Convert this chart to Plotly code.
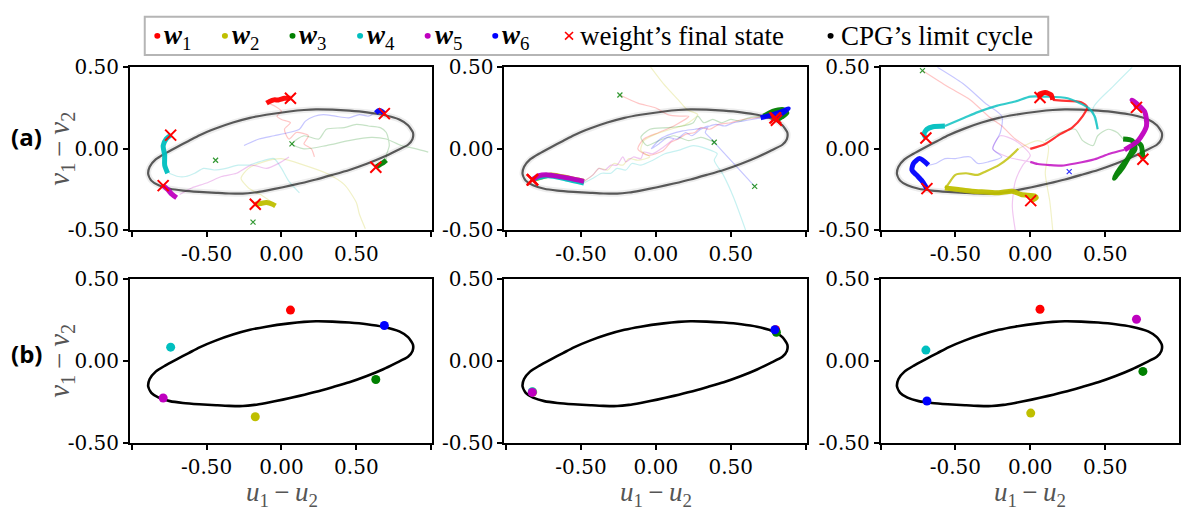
import plotly.graph_objects as go

W, H = 1181, 515
SERIF = "Liberation Serif"
TICK_SERIF = "DejaVu Serif"

WEIGHTS = ["w1", "w2", "w3", "w4", "w5", "w6"]
COLORS = ["#ff0000", "#bfbf00", "#008000", "#00bfbf", "#bf00bf", "#0000ff"]

# CPG limit cycle in the (u1-u2, v1-v2) plane
CYCLE_X = [0.053, 0.15, 0.231, 0.34, 0.453, 0.57, 0.676, 0.787, 0.845, 0.878, 0.875, 0.845,
           0.764, 0.676, 0.57, 0.453, 0.34, 0.231, 0.12, 0.009, -0.102, -0.18, -0.258, -0.35,
           -0.436, -0.55, -0.658, -0.745, -0.82, -0.869, -0.89, -0.88, -0.84, -0.78, -0.70,
           -0.62, -0.547, -0.44, -0.324, -0.21, -0.102, 0.053]
CYCLE_Y = [0.229, 0.238, 0.242, 0.240, 0.234, 0.224, 0.209, 0.18, 0.145, 0.10, 0.06, 0.025,
           -0.013, -0.052, -0.092, -0.13, -0.16, -0.188, -0.213, -0.236, -0.256, -0.268, -0.275,
           -0.274, -0.27, -0.264, -0.256, -0.245, -0.224, -0.195, -0.155, -0.11, -0.065, -0.03,
           0.01, 0.048, 0.083, 0.124, 0.161, 0.19, 0.209, 0.229]

# ---- run 1 ----
FINAL_1_X = [0.06, -0.175, 0.63, -0.74, -0.79, 0.687]
FINAL_1_Y = [0.31, -0.34, -0.113, 0.084, -0.226, 0.216]
START_1_X = [0.07, -0.44, -0.19]
START_1_Y = [0.03, -0.07, -0.45]
FAINT_1 = {
    "w1": [(0.22, -0.05), (0.2, 0.0), (0.15, 0.03), (0.18, 0.08), (0.1, 0.1), (0.05, 0.06),
           (0.02, 0.12), (0.06, 0.16), (0.0, 0.18), (-0.03, 0.2), (0.0, 0.23), (-0.04, 0.26),
           (-0.09, 0.28)],
    "w2": [(0.56, -0.49), (0.52, -0.4), (0.5, -0.33), (0.42, -0.22), (0.3, -0.15), (0.15, -0.1),
           (0.0, -0.06), (-0.12, -0.08), (-0.22, -0.12), (-0.27, -0.18), (-0.22, -0.24),
           (-0.14, -0.28), (-0.06, -0.33)],
    "w3": [(0.98, -0.02), (0.9, 0.0), (0.8, 0.02), (0.7, 0.06), (0.6, 0.07), (0.45, 0.05),
           (0.3, 0.02), (0.15, 0.0), (0.07, 0.03), (0.15, 0.08), (0.25, 0.06), (0.3, 0.12),
           (0.42, 0.13), (0.5, 0.15), (0.58, 0.14), (0.66, 0.13), (0.70, 0.1), (0.72, 0.02),
           (0.70, -0.04), (0.70, -0.07)],
    "w4": [(0.12, -0.27), (0.05, -0.2), (0.0, -0.12), (-0.05, -0.06), (-0.15, -0.08),
           (-0.22, -0.1), (-0.29, -0.10), (-0.37, -0.12), (-0.45, -0.13), (-0.52, -0.12),
           (-0.58, -0.15), (-0.64, -0.17), (-0.69, -0.17), (-0.75, -0.15)],
    "w5": [(0.05, -0.05), (-0.02, -0.09), (-0.1, -0.12), (-0.2, -0.1), (-0.3, -0.15),
           (-0.4, -0.17), (-0.5, -0.21), (-0.6, -0.24), (-0.68, -0.28)],
    "w6": [(-0.25, 0.02), (-0.15, 0.06), (-0.05, 0.08), (0.05, 0.1), (0.12, 0.12), (0.16, 0.17),
           (0.22, 0.2), (0.28, 0.21), (0.36, 0.2), (0.45, 0.19), (0.52, 0.21), (0.58, 0.2),
           (0.62, 0.22)],
}
MID_1 = {}
TAIL_1 = {
    "w1": [(-0.10, 0.28), (-0.08, 0.29), (-0.05, 0.30), (-0.02, 0.30), (0.02, 0.31)],
    "w2": [(-0.04, -0.35), (-0.06, -0.34), (-0.10, -0.33), (-0.14, -0.335)],
    "w3": [(0.70, -0.07), (0.68, -0.085), (0.66, -0.095)],
    "w4": [(-0.76, -0.15), (-0.78, -0.1), (-0.78, -0.04), (-0.79, 0.02), (-0.77, 0.06)],
    "w5": [(-0.70, -0.30), (-0.73, -0.28), (-0.76, -0.25)],
    "w6": [(0.63, 0.22), (0.65, 0.235), (0.67, 0.23)],
}

# ---- run 2 ----
FINAL_2_X = [0.80, -0.822, 0.805, -0.825, -0.825, 0.795]
FINAL_2_Y = [0.19, -0.19, 0.175, -0.188, -0.192, 0.19]
START_2_X = [-0.24, 0.39, 0.66]
START_2_Y = [0.33, 0.04, -0.23]
FAINT_2 = {
    "w1": [(-0.24, 0.33), (-0.12, 0.28), (0.0, 0.25), (0.08, 0.21), (0.16, 0.2), (0.22, 0.2),
           (0.12, 0.14), (0.02, 0.1), (-0.08, 0.06), (-0.12, 0.0), (-0.05, -0.04), (0.05, -0.01),
           (0.1, 0.04), (0.15, 0.06), (0.2, 0.09), (0.26, 0.1), (0.3, 0.13), (0.36, 0.12),
           (0.42, 0.15), (0.5, 0.16), (0.58, 0.18), (0.66, 0.19), (0.74, 0.2)],
    "w2": [(-0.05, 0.52), (0.05, 0.4), (0.15, 0.3), (0.21, 0.24), (0.28, 0.21), (0.2, 0.15),
           (0.1, 0.12), (0.0, 0.09), (-0.08, 0.05), (-0.1, -0.01), (-0.04, -0.05), (-0.12, -0.07),
           (-0.18, -0.06), (-0.22, -0.1), (-0.28, -0.09), (-0.32, -0.13), (-0.38, -0.12),
           (-0.42, -0.16), (-0.48, -0.2)],
    "w3": [(0.39, 0.04), (0.3, 0.07), (0.22, 0.05), (0.12, 0.08), (0.02, 0.05), (-0.06, 0.02),
           (-0.1, 0.07), (-0.04, 0.12), (0.08, 0.13), (0.18, 0.14), (0.25, 0.16), (0.28, 0.2),
           (0.32, 0.16), (0.38, 0.18), (0.44, 0.16), (0.5, 0.18), (0.56, 0.17), (0.62, 0.19),
           (0.72, 0.2)],
    "w4": [(0.6, -0.5), (0.52, -0.3), (0.45, -0.16), (0.39, -0.07), (0.41, -0.03), (0.34, 0.0),
           (0.25, 0.02), (0.15, -0.01), (0.06, -0.03), (-0.02, -0.07), (-0.1, -0.1),
           (-0.16, -0.09), (-0.2, -0.13), (-0.26, -0.12), (-0.3, -0.15), (-0.36, -0.15),
           (-0.42, -0.18), (-0.48, -0.21)],
    "w5": [(0.12, 0.06), (0.05, 0.01), (-0.02, -0.03), (-0.08, -0.02), (-0.1, -0.06),
           (-0.15, -0.05), (-0.2, -0.08), (-0.22, -0.05), (-0.26, -0.1), (-0.3, -0.1),
           (-0.34, -0.13), (-0.38, -0.12), (-0.42, -0.16), (-0.48, -0.2)],
    "w6": [(0.66, -0.23), (0.55, -0.12), (0.45, -0.02), (0.36, 0.07), (0.33, 0.1), (0.35, 0.14),
           (0.3, 0.12), (0.24, 0.08), (0.2, 0.1), (0.14, 0.06), (0.08, 0.07), (0.02, 0.03),
           (-0.03, 0.0), (0.03, 0.06), (0.1, 0.09), (0.18, 0.11), (0.26, 0.12), (0.33, 0.13),
           (0.4, 0.15), (0.46, 0.14), (0.52, 0.16), (0.58, 0.17), (0.64, 0.18), (0.70, 0.19)],
}
MID_2 = {}
TAIL_2 = {
    "w1": [(0.74, 0.2), (0.77, 0.205)],
    "w2": [(-0.48, -0.2), (-0.58, -0.18), (-0.7, -0.16)],
    "w3": [(0.72, 0.2), (0.78, 0.23), (0.85, 0.24), (0.875, 0.22), (0.84, 0.195)],
    "w4": [(-0.48, -0.21), (-0.6, -0.185), (-0.72, -0.165)],
    "w5": [(-0.48, -0.2), (-0.58, -0.18), (-0.72, -0.16), (-0.78, -0.165)],
    "w6": [(0.70, 0.19), (0.78, 0.21), (0.86, 0.235), (0.885, 0.245), (0.84, 0.215)],
}

# ---- run 3 ----
FINAL_3_X = [0.065, 0.003, 0.752, -0.697, 0.709, -0.69]
FINAL_3_Y = [0.315, -0.318, -0.064, 0.066, 0.254, -0.244]
START_3_X = [-0.72]
START_3_Y = [0.48]
START_3B_X = [0.26]
START_3B_Y = [-0.14]
FAINT_3 = {
    "w1": [(-0.72, 0.48), (-0.55, 0.38), (-0.4, 0.3), (-0.28, 0.2), (-0.19, 0.14), (-0.1, 0.06),
           (0.0, 0.0)],
    "w2": [(0.15, -0.5), (0.13, -0.32), (0.1, -0.15), (0.12, 0.02), (0.05, 0.05), (-0.08, 0.0)],
    "w3": [(0.1, 0.05), (0.2, 0.1), (0.3, 0.12), (0.35, 0.05), (0.42, 0.02), (0.45, 0.08),
           (0.52, 0.12), (0.58, 0.1), (0.62, 0.06)],
    "w4": [(0.68, 0.5), (0.55, 0.38), (0.42, 0.25), (0.45, 0.12)],
    "w5": [(-0.1, -0.5), (-0.12, -0.35), (-0.1, -0.2), (-0.05, -0.1), (0.0, -0.04), (-0.1, 0.05),
           (-0.2, 0.08), (-0.25, 0.0), (-0.15, -0.05), (0.0, -0.08)],
    "w6": [(-0.62, 0.5), (-0.45, 0.4), (-0.3, 0.28), (-0.19, 0.2), (-0.2, 0.1), (-0.25, 0.0),
           (-0.19, -0.05), (-0.28, -0.08), (-0.35, -0.09), (-0.40, -0.05), (-0.44, -0.05),
           (-0.5, -0.06), (-0.57, -0.06), (-0.63, -0.09), (-0.68, -0.1)],
}
MID_3 = {
    "w1": [(0.0, 0.0), (0.1, 0.03), (0.2, 0.09), (0.28, 0.13), (0.35, 0.2), (0.38, 0.256),
           (0.34, 0.285), (0.21, 0.295), (0.15, 0.3)],
    "w2": [(-0.08, 0.0), (-0.15, -0.06), (-0.21, -0.1), (-0.3, -0.14), (-0.35, -0.16),
           (-0.43, -0.15), (-0.5, -0.16), (-0.55, -0.22), (-0.57, -0.24)],
    "w4": [(0.45, 0.12), (0.43, 0.2), (0.39, 0.25), (0.25, 0.31), (0.1, 0.32), (0.0, 0.32),
           (-0.1, 0.29), (-0.22, 0.265), (-0.35, 0.225), (-0.44, 0.19), (-0.57, 0.14)],
    "w5": [(0.0, -0.08), (0.05, -0.093), (0.13, -0.1), (0.21, -0.103), (0.3, -0.09),
           (0.43, -0.064), (0.53, -0.03), (0.63, -0.006)],
}
TAIL_3 = {
    "w1": [(0.15, 0.3), (0.14, 0.33), (0.1, 0.345), (0.06, 0.335)],
    "w2": [(-0.57, -0.24), (-0.48, -0.25), (-0.39, -0.26), (-0.3, -0.265), (-0.21, -0.27),
           (-0.12, -0.26), (-0.06, -0.28), (0.03, -0.29), (0.04, -0.30)],
    "w3": [(0.62, 0.06), (0.68, 0.05), (0.70, 0.0), (0.66, -0.05), (0.6, -0.12), (0.56, -0.18),
           (0.62, -0.11), (0.67, -0.03), (0.71, 0.04), (0.74, 0.02)],
    "w4": [(-0.57, 0.14), (-0.65, 0.135), (-0.69, 0.12), (-0.71, 0.09)],
    "w5": [(0.63, -0.006), (0.72, 0.05), (0.776, 0.14), (0.764, 0.227), (0.72, 0.27),
           (0.68, 0.3), (0.70, 0.28)],
    "w6": [(-0.68, -0.1), (-0.74, -0.06), (-0.78, -0.09), (-0.79, -0.13), (-0.76, -0.16),
           (-0.72, -0.2)],
}

RUNS = [
    (FAINT_1, MID_1, TAIL_1, FINAL_1_X, FINAL_1_Y, [(START_1_X, START_1_Y, "#008000")]),
    (FAINT_2, MID_2, TAIL_2, FINAL_2_X, FINAL_2_Y, [(START_2_X, START_2_Y, "#008000")]),
    (FAINT_3, MID_3, TAIL_3, FINAL_3_X, FINAL_3_Y,
     [(START_3_X, START_3_Y, "#008000"), (START_3B_X, START_3B_Y, "#0000ff")]),
]

X_TICKS = [-1.0, -0.5, 0.0, 0.5, 1.0]
X_TICKTEXT = ["", "-0.50", "0.00", "0.50", ""]
Y_TICKS = [-0.5, 0.0, 0.5]
Y_TICKTEXT = ["-0.50", "0.00", "0.50"]

# panel placement in pixels
COL_PX = [(130, 433), (505, 808), (882, 1181)]
COL_MID = [282, 657, 1032]
ROW_PX = [(58, 229), (280, 452)]
X_RANGES = [(-1.013, 1.007), (-1.013, 1.007), (-1.0, 0.993)]

fig = go.Figure()


def ax_names(row, col):
    n = row * 3 + col + 1
    s = "" if n == 1 else str(n)
    return "x" + s, "y" + s, "xaxis" + s, "yaxis" + s


def add_path(pts, color, width, opacity, xa, ya, dash=None):
    if not pts:
        return
    fig.add_trace(go.Scatter(
        x=[p[0] for p in pts], y=[p[1] for p in pts], mode="lines",
        line=dict(color=color, width=width, shape="spline", smoothing=0.7, dash=dash),
        opacity=opacity, xaxis=xa, yaxis=ya, showlegend=False, hoverinfo="skip"))


def add_cycle(xa, ya, color, width):
    fig.add_trace(go.Scatter(x=CYCLE_X, y=CYCLE_Y, mode="lines",
                             line=dict(color=color, width=width, shape="spline", smoothing=0.6),
                             xaxis=xa, yaxis=ya, showlegend=False, hoverinfo="skip"))


for col, (faint, mid, tail, fx, fy, starts) in enumerate(RUNS):
    # (a) weight trajectories over the limit cycle
    xa, ya, _, _ = ax_names(0, col)
    for k, w in enumerate(WEIGHTS):
        add_path(faint.get(w), COLORS[k], 1.2, 0.22, xa, ya)
    add_cycle(xa, ya, "rgba(0,0,0,0.07)", 6)
    add_cycle(xa, ya, "rgba(30,30,30,0.72)", 2.2)
    for k, w in enumerate(WEIGHTS):
        add_path(mid.get(w), COLORS[k], 2.2, 0.8, xa, ya)
    for k, w in enumerate(WEIGHTS):
        pts = tail.get(w)
        if pts:
            add_path(pts + [(fx[k], fy[k])], COLORS[k], 5, 0.95, xa, ya)
    for sx, sy, c in starts:
        fig.add_trace(go.Scatter(x=sx, y=sy, mode="markers",
                                 marker=dict(symbol="x-thin", size=5, line=dict(color=c, width=1.2)),
                                 opacity=0.8, xaxis=xa, yaxis=ya, showlegend=False, hoverinfo="skip"))
    fig.add_trace(go.Scatter(x=fx, y=fy, mode="markers",
                             marker=dict(symbol="x-thin", size=11, line=dict(color="#ff0000", width=2)),
                             xaxis=xa, yaxis=ya, showlegend=False, hoverinfo="skip"))

    # (b) final weight states on the limit cycle
    xa, ya, _, _ = ax_names(1, col)
    add_cycle(xa, ya, "black", 2.6)
    for k, w in enumerate(WEIGHTS):
        fig.add_trace(go.Scatter(x=[fx[k]], y=[fy[k]], mode="markers",
                                 marker=dict(size=9, color=COLORS[k]),
                                 xaxis=xa, yaxis=ya, showlegend=False, name=w))

TICK_FONT = dict(family=TICK_SERIF, size=20, color="black")
layout_axes = {}
for row in range(2):
    for col in range(3):
        xa, ya, xk, yk = ax_names(row, col)
        common = dict(showline=True, mirror=True, linecolor="black", linewidth=1.5,
                      ticks="outside", ticklen=5, tickwidth=1.5, tickcolor="black",
                      showgrid=False, zeroline=False, tickfont=TICK_FONT)
        layout_axes[xk] = dict(common, domain=[COL_PX[col][0] / W, COL_PX[col][1] / W],
                               range=list(X_RANGES[col]), tickvals=X_TICKS, ticktext=X_TICKTEXT,
                               anchor=ya)
        layout_axes[yk] = dict(common, domain=[1 - ROW_PX[row][1] / H, 1 - ROW_PX[row][0] / H],
                               range=[-0.5, 0.5], tickvals=Y_TICKS, ticktext=Y_TICKTEXT,
                               anchor=xa)


def px(x):
    return x / W


def py(y):
    return 1 - y / H


annotations = []
shapes = []
TITLE_FONT = dict(family=SERIF, size=29, color="#555555")
XTITLE_FONT = dict(family=SERIF, size=27, color="#555555")
THIN = "\u2009"
for row in range(2):
    yc = (ROW_PX[row][0] + ROW_PX[row][1]) / 2
    annotations.append(dict(x=px(61), y=py(yc), xref="paper", yref="paper",
                            text=f"<i>v</i><sub>1</sub>{THIN}−{THIN}<i>v</i><sub>2</sub>",
                            textangle=-90, showarrow=False, font=TITLE_FONT,
                            xanchor="center", yanchor="middle"))
for label, yc in (("(a)", 131), ("(b)", 358)):
    annotations.append(dict(x=px(27), y=py(yc), xref="paper", yref="paper", text=f"<b>{label}</b>",
                            showarrow=False, xanchor="center", yanchor="middle",
                            font=dict(family="Open Sans", size=24, color="black")))
for col in range(3):
    annotations.append(dict(x=px(COL_MID[col]), y=py(506), xref="paper", yref="paper",
                            text=f"<i>u</i><sub>1</sub>{THIN}−{THIN}<i>u</i><sub>2</sub>",
                            showarrow=False, font=XTITLE_FONT, xanchor="center", yanchor="middle",
                            borderpad=0))

# legend box
shapes.append(dict(type="rect", xref="paper", yref="paper", x0=px(145), x1=px(1050),
                   y0=py(45), y1=py(5), line=dict(color="#b5b5b5", width=2), fillcolor="white"))
LEG_Y = 25
LEG_FONT = dict(family=SERIF, size=27, color="black")
for k in range(6):
    cx = 157.6 + 67.7 * k
    shapes.append(dict(type="circle", xref="paper", yref="paper",
                       x0=px(cx - 3), x1=px(cx + 3), y0=py(LEG_Y + 3), y1=py(LEG_Y - 3),
                       fillcolor=COLORS[k], line=dict(width=0)))
    annotations.append(dict(x=px(cx + 5), y=py(LEG_Y + 1), xref="paper", yref="paper",
                            text=f"<b><i>w</i></b><sub>{k + 1}</sub>", showarrow=False,
                            font=LEG_FONT, xanchor="left", yanchor="middle"))
for d in (-1, 1):
    shapes.append(dict(type="line", xref="paper", yref="paper",
                       x0=px(570 - 4), x1=px(570 + 4), y0=py(LEG_Y - 4 * d), y1=py(LEG_Y + 4 * d),
                       line=dict(color="#ff0000", width=1.6)))
annotations.append(dict(x=px(579), y=py(LEG_Y), xref="paper", yref="paper",
                        text="weight’s final state", showarrow=False, font=LEG_FONT,
                        xanchor="left", yanchor="middle"))
shapes.append(dict(type="circle", xref="paper", yref="paper",
                   x0=px(832 - 3), x1=px(832 + 3), y0=py(LEG_Y + 3), y1=py(LEG_Y - 3),
                   fillcolor="black", line=dict(width=0)))
annotations.append(dict(x=px(840), y=py(LEG_Y), xref="paper", yref="paper",
                        text="CPG’s limit cycle", showarrow=False, font=LEG_FONT,
                        xanchor="left", yanchor="middle"))

fig.update_layout(width=W, height=H, margin=dict(l=0, r=0, t=0, b=0),
                  paper_bgcolor="white", plot_bgcolor="white", showlegend=False,
                  font=dict(family=TICK_SERIF, size=20, color="black"),
                  annotations=annotations, shapes=shapes, **layout_axes)

fig.write_html("out.html")
